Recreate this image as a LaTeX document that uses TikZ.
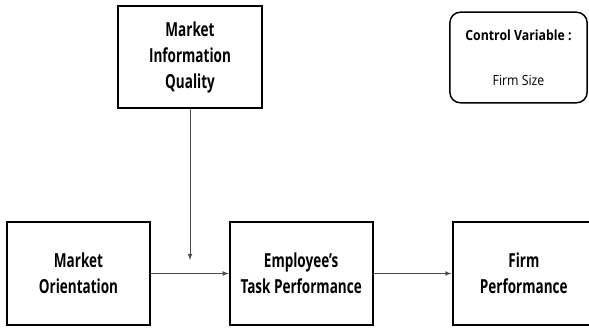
\documentclass[tikz,border=0pt]{standalone}
\usepackage{fontspec}
\setmainfont{Open Sans}[FakeStretch=0.7]
\newfontfamily\cvfont{Open Sans}[FakeStretch=0.88]
\usetikzlibrary{arrows,positioning}

\begin{document}
\begin{tikzpicture}[x=0.75pt, y=-0.75pt, ->, >=latex, node distance=58.5pt]

\tikzstyle{var}=[draw, line width=1.5pt, minimum width=107pt, minimum height=77pt, align=center, inner sep=2pt, font=\fontsize{14.5}{19.5}\selectfont\bfseries]
\tikzstyle{link}=[draw=black!70, line width=0.6pt]

\useasboundingbox (0,0) rectangle (589,328);

\node[var] (MO) at (78.5,273.5) {Market\\Orientation};
\node[var] (ETP)[right=of MO] {Employee's\\Task Performance};
\node[var] (FP)[right=of ETP] {Firm\\Performance};
\node[var, minimum width=108pt, minimum height=76.5pt] (MIQ) at (190,57) {Market\\Information\\Quality};
\node[draw, line width=1.1pt, rounded corners=8pt, minimum width=103pt, minimum height=68pt, align=center, font=\cvfont\fontsize{10.5}{14}\selectfont] (CV) at (518.5,57.5) {\textbf{Control Variable :}\\[20pt]Firm Size};

% moderating arrow stops just above the main path
\coordinate (Mod) at (190,260);

\path
(MO) edge[link] (ETP)
(ETP) edge[link] (FP)
(MIQ) edge[link] (Mod);
\end{tikzpicture}
\end{document}
